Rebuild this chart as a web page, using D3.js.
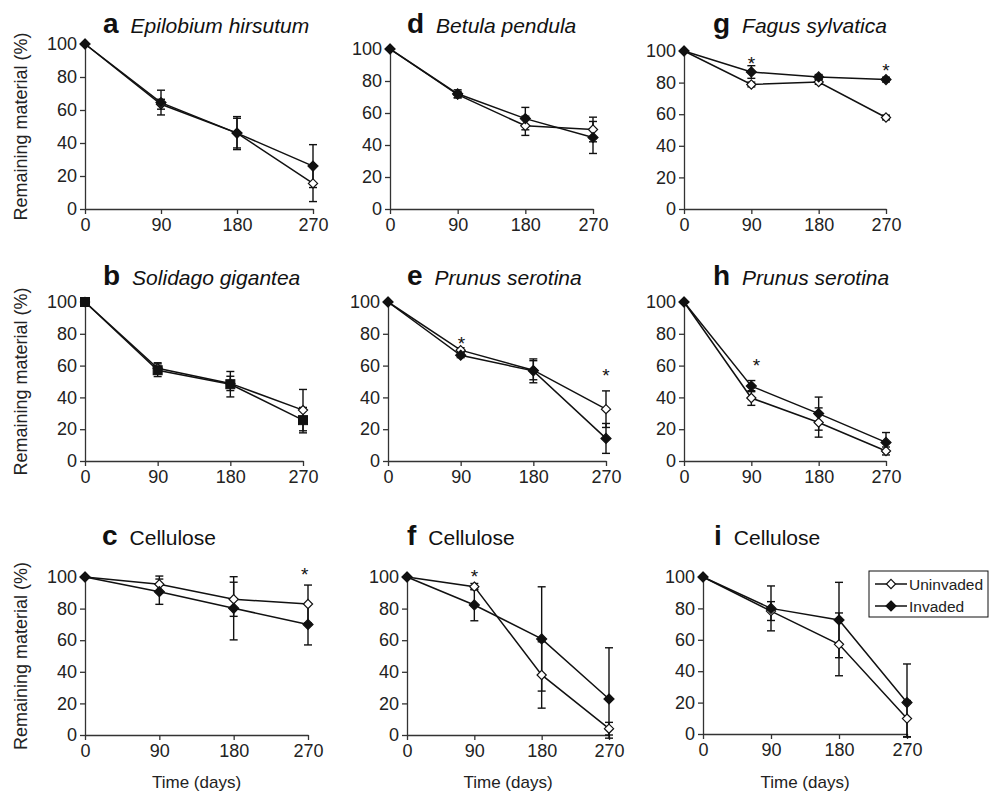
<!DOCTYPE html>
<html>
<head>
<meta charset="utf-8">
<script src="https://d3js.org/d3.v7.min.js"></script>
<style>
  body { margin: 0; background: #fff; }
  svg { font-family: "Liberation Sans", Arial, sans-serif; }
  .axis path, .axis line { stroke: #333; stroke-width: 1.3; }
  .axis text { font-size: 18px; fill: #222; }
</style>
</head>
<body>
<svg id="chart" width="997" height="797"></svg>
<script>
// Litter decomposition: remaining material (%) against time (days)
var days = [0, 90, 180, 270];
var yTicks = [0, 20, 40, 60, 80, 100];

var letters = ['a', 'b', 'c', 'd', 'e', 'f', 'g', 'h', 'i'];
var titles = ['Epilobium hirsutum', 'Solidago gigantea', 'Cellulose',
              'Betula pendula', 'Prunus serotina', 'Cellulose',
              'Fagus sylvatica', 'Prunus serotina', 'Cellulose'];
var italicTitle = [true, true, false, true, true, false, true, true, false];

var uninvaded = [
  [100, 63.5, 46, 15.5],
  [100, 58.3, 48.8, 32],
  [100, 95.4, 85.9, 82.9],
  [100, 71.5, 52, 49.7],
  [100, 69.7, 57.1, 32.6],
  [100, 93.9, 38, 4],
  [100, 78.8, 80.4, 57.9],
  [100, 39.6, 24.2, 6.3],
  [100, 78.3, 57.1, 9.8]
];
var invaded = [
  [100, 64.5, 46, 26],
  [100, 57.1, 48.3, 25.7],
  [100, 90.7, 80.2, 70],
  [100, 72, 56.5, 44.7],
  [100, 66.5, 56.7, 14.2],
  [100, 82.3, 60.8, 22.8],
  [100, 86.7, 83.6, 81.9],
  [100, 47.1, 29.8, 11.7],
  [100, 80, 72.6, 20]
];
var uninvadedErr = [
  [0, 3, 9, 11],
  [0, 3.5, 4.5, 13],
  [0, 5.2, 10.8, 12],
  [0, 2, 6, 7.7],
  [0, 1.5, 6, 11.5],
  [0, 2, 21, 4],
  [0, 1.5, 1.5, 1.5],
  [0, 4.6, 9.2, 2.5],
  [0, 6, 20, 11.5]
];
var invadedErr = [
  [0, 7.5, 10, 13],
  [0, 4, 8, 8],
  [0, 8, 20, 13],
  [0, 2.5, 7, 10],
  [0, 1.5, 7.5, 9.4],
  [0, 10, 33, 32.4],
  [0, 4, 1.5, 1.5],
  [0, 3.5, 10.4, 6.2],
  [0, 14.3, 24, 24.6]
];
var invadedShape = ['diamond', 'square', 'diamond', 'diamond', 'diamond',
                    'diamond', 'diamond', 'diamond', 'diamond'];

// significance stars: panel, day, height (%)
var starPanel = ['c', 'e', 'e', 'f', 'g', 'g', 'h'];
var starDay = [266, 91, 270, 90, 90, 270, 97];
var starValue = [104, 76, 56, 102.5, 94, 90, 62];

var seriesNames = ['Uninvaded', 'Invaded'];

// panel frames (pixels)
var layout = {
  a: {x0: 85, x1: 313, yTop: 44, yBot: 209, titleY: 33, letterX: 103, yLabel: true},
  d: {x0: 390, x1: 593, yTop: 49, yBot: 209, titleY: 33, letterX: 407},
  g: {x0: 684, x1: 886, yTop: 51, yBot: 209, titleY: 33, letterX: 713},
  b: {x0: 85, x1: 303, yTop: 302, yBot: 461, titleY: 285, letterX: 103, yLabel: true},
  e: {x0: 388, x1: 606, yTop: 302, yBot: 461, titleY: 285, letterX: 407},
  h: {x0: 684, x1: 886, yTop: 302, yBot: 461, titleY: 285, letterX: 713},
  c: {x0: 85, x1: 308, yTop: 577, yBot: 735, titleY: 545, letterX: 102, yLabel: true, xLabel: true},
  f: {x0: 407, x1: 609, yTop: 577, yBot: 735, titleY: 545, letterX: 407, xLabel: true},
  i: {x0: 703, x1: 907, yTop: 577, yBot: 734, titleY: 545, letterX: 714, xLabel: true, legend: true}
};

var svg = d3.select('#chart');

function drawMarker(g, shape, cx, cy, filled) {
  if (shape === 'square') {
    g.append('rect')
      .attr('x', cx - 4.5).attr('y', cy - 4.5)
      .attr('width', 9).attr('height', 9)
      .attr('fill', '#111').attr('stroke', '#111').attr('stroke-width', 1);
  } else {
    var r = filled ? 5 : 4.6;
    g.append('path')
      .attr('d', 'M' + cx + ',' + (cy - r) + 'L' + (cx + r) + ',' + cy +
                 'L' + cx + ',' + (cy + r) + 'L' + (cx - r) + ',' + cy + 'Z')
      .attr('fill', filled ? '#111' : '#fff')
      .attr('stroke', '#111').attr('stroke-width', 1.2);
  }
}

letters.forEach(function(id, p) {
  var L = layout[id];
  var x = d3.scaleLinear().domain([0, 270]).range([L.x0, L.x1]);
  var y = d3.scaleLinear().domain([0, 100]).range([L.yBot, L.yTop]);
  var g = svg.append('g');

  // axes
  g.append('g')
    .attr('class', 'axis')
    .attr('transform', 'translate(' + L.x0 + ',0)')
    .call(d3.axisLeft(y).tickValues(yTicks).tickSize(5).tickSizeOuter(0).tickPadding(3));
  g.append('g')
    .attr('class', 'axis')
    .attr('transform', 'translate(0,' + L.yBot + ')')
    .call(d3.axisBottom(x).tickValues(days).tickSize(5).tickSizeOuter(0).tickPadding(4));

  // title
  var letter = g.append('text')
    .attr('x', L.letterX).attr('y', L.titleY)
    .attr('font-size', 28).attr('font-weight', 'bold').attr('fill', '#111')
    .text(id);
  var lw = letter.node().getComputedTextLength();
  g.append('text')
    .attr('x', L.letterX + lw + 12).attr('y', L.titleY)
    .attr('font-size', 21).attr('fill', '#111')
    .attr('font-style', italicTitle[p] ? 'italic' : 'normal')
    .text(titles[p]);

  if (L.yLabel) {
    g.append('text')
      .attr('transform', 'translate(27,' + ((L.yTop + L.yBot) / 2) + ') rotate(-90)')
      .attr('text-anchor', 'middle').attr('font-size', 18).attr('fill', '#222')
      .text('Remaining material (%)');
  }
  if (L.xLabel) {
    g.append('text')
      .attr('x', (L.x0 + L.x1) / 2).attr('y', 788)
      .attr('text-anchor', 'middle').attr('font-size', 17).attr('fill', '#222')
      .text('Time (days)');
  }

  var series = [
    {vals: uninvaded[p], err: uninvadedErr[p], filled: false, shape: 'diamond'},
    {vals: invaded[p], err: invadedErr[p], filled: true, shape: invadedShape[p]}
  ];

  var line = d3.line()
    .x(function(d, i) { return x(days[i]); })
    .y(function(d) { return y(d); });

  // error bars (allowed to run slightly below the axis)
  series.forEach(function(s) {
    s.vals.forEach(function(v, i) {
      if (!s.err[i]) return;
      var lo = Math.max(v - s.err[i], -2), hi = v + s.err[i];
      var cx = x(days[i]);
      g.append('line')
        .attr('x1', cx).attr('x2', cx).attr('y1', y(lo)).attr('y2', y(hi))
        .attr('stroke', '#111').attr('stroke-width', 1.4);
      [lo, hi].forEach(function(e) {
        g.append('line')
          .attr('x1', cx - 4).attr('x2', cx + 4).attr('y1', y(e)).attr('y2', y(e))
          .attr('stroke', '#111').attr('stroke-width', 1.4);
      });
    });
  });

  series.forEach(function(s) {
    g.append('path')
      .attr('d', line(s.vals))
      .attr('fill', 'none').attr('stroke', '#111').attr('stroke-width', 1.5);
  });

  series.forEach(function(s) {
    s.vals.forEach(function(v, i) {
      drawMarker(g, s.shape, x(days[i]), y(v), s.filled);
    });
  });

  // stars
  starPanel.forEach(function(sp, k) {
    if (sp !== id) return;
    g.append('text')
      .attr('x', x(starDay[k])).attr('y', y(starValue[k]) + 10)
      .attr('text-anchor', 'middle').attr('font-size', 19).attr('fill', '#111')
      .text('*');
  });

  if (L.legend) {
    var lg = g.append('g').attr('transform', 'translate(869,571)');
    lg.append('rect')
      .attr('width', 119).attr('height', 46)
      .attr('fill', '#fff').attr('stroke', '#111').attr('stroke-width', 1);
    seriesNames.forEach(function(name, k) {
      var ly = 13 + k * 22;
      lg.append('line')
        .attr('x1', 6).attr('x2', 38).attr('y1', ly).attr('y2', ly)
        .attr('stroke', '#111').attr('stroke-width', 1.5);
      drawMarker(lg, 'diamond', 22, ly, k === 1);
      lg.append('text')
        .attr('x', 40).attr('y', ly + 5.5)
        .attr('font-size', 15.5).attr('fill', '#222')
        .text(name);
    });
  }
});
</script>
</body>
</html>
